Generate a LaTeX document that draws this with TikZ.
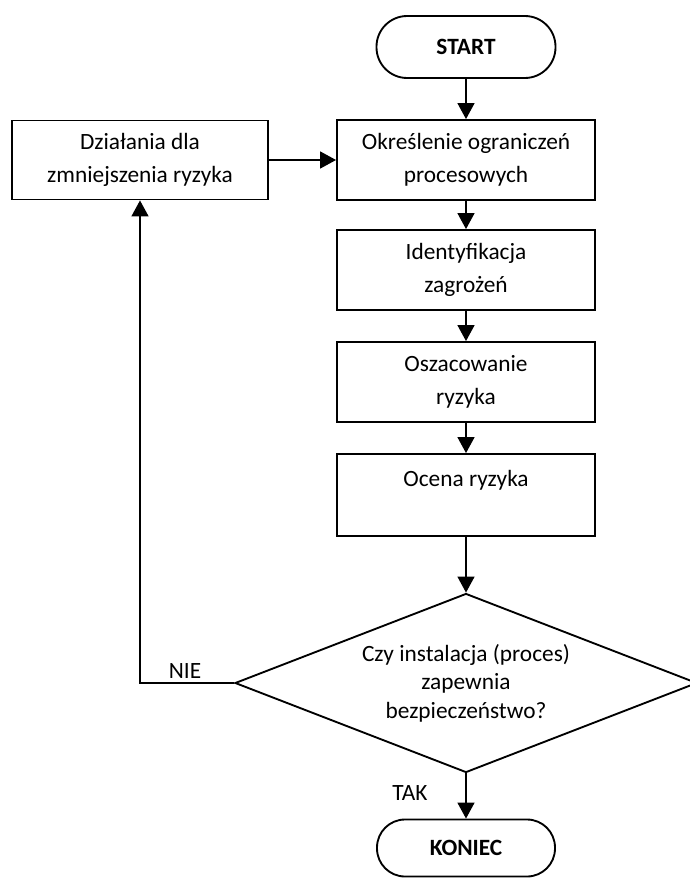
\documentclass[tikz,border=0pt]{standalone}
\usepackage{fontspec}
\setmainfont{Carlito}
\usetikzlibrary{shapes.geometric,arrows.meta}
\begin{document}
\begin{tikzpicture}[x=0.75pt,y=-0.75pt,
  every node/.style={font=\fontsize{17.5}{24.75}\selectfont},
  box/.style={draw, line width=1.4pt, minimum width=193.5pt, minimum height=60pt, align=center, inner sep=0pt},
  term/.style={draw, line width=1.4pt, align=center, inner sep=0pt, font=\fontsize{17.5}{24.75}\selectfont\bfseries},
  decision/.style={draw, diamond, line width=1.4pt, align=center, inner sep=0pt, minimum width=346.5pt, minimum height=134.25pt, shape aspect=2.58, font=\fontsize{17.5}{21.4}\selectfont},
  conn/.style={-{Triangle[length=12pt,width=12.75pt]}, line width=1.1pt},
  lbl/.style={inner sep=0pt}
]
\useasboundingbox (0,0) rectangle (689,878);

\node[term, minimum width=134.25pt, minimum height=46.5pt, rounded corners=23pt] (start) at (466,47) {START};
\node[box] (b1) at (466,160) {Określenie ograniczeń\\procesowych};
\node[box, minimum width=192pt, minimum height=59.25pt] (left) at (140,160) {Działania dla\\zmniejszenia ryzyka};
\node[box] (b2) at (466,270) {Identyfikacja\\zagrożeń};
\node[box] (b3) at (466,382) {Oszacowanie\\ryzyka};
\node[box, minimum height=61.5pt] (b4) at (466,495) {Ocena ryzyka\\\mbox{}};
\node[decision] (dia) at (466,683) {Czy instalacja (proces)\\zapewnia\\bezpieczeństwo?};
\node[term, minimum width=133.5pt, minimum height=42.75pt, rounded corners=21pt] (end) at (466,848) {KONIEC};

\coordinate (nie) at (140,683);

\draw[conn] (start) -- (b1);
\draw[conn] (b1) -- (b2);
\draw[conn] (b2) -- (b3);
\draw[conn] (b3) -- (b4);
\draw[conn] (b4) -- (dia);
\draw[conn] (dia) -- (end);
\draw[conn] (left) -- (b1);
\draw[conn] (dia.west) -- (nie) -- (left.south);

\node[lbl] (nielbl) at (185,671) {NIE};
\node[lbl] (taklbl) at (410,793) {TAK};
\end{tikzpicture}
\end{document}
